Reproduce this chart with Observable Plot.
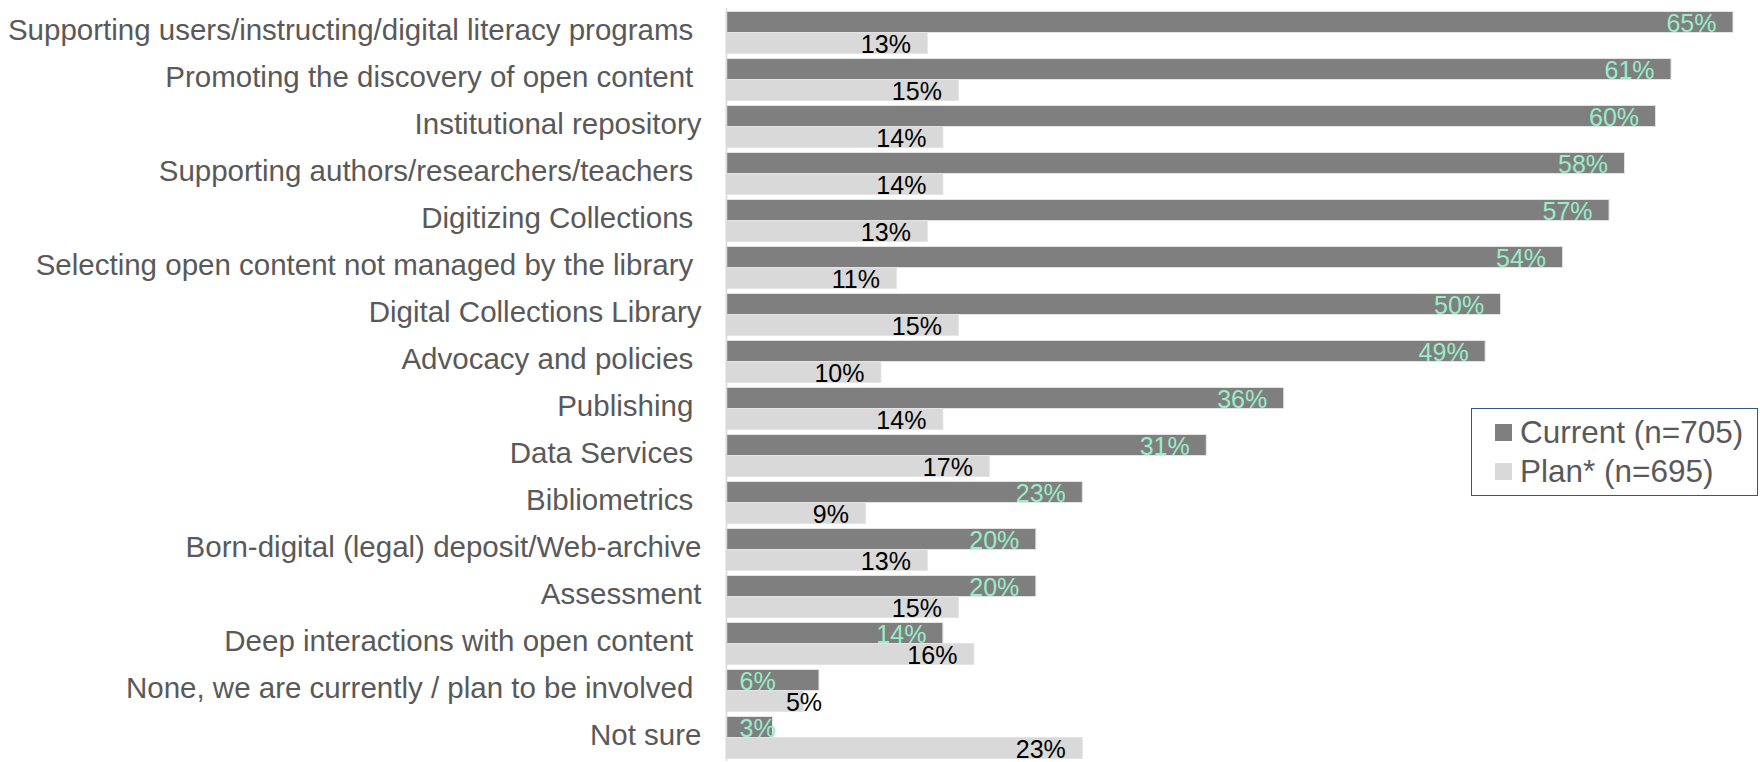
<!DOCTYPE html>
<html>
<head>
<meta charset="utf-8">
<script src="https://cdn.jsdelivr.net/npm/d3@7"></script>
<script src="https://cdn.jsdelivr.net/npm/@observablehq/plot@0.6"></script>
<style>
  html, body { margin: 0; padding: 0; background: #fff; }
  #wrap { position: relative; width: 1760px; height: 762px; font-family: "Liberation Sans", Arial, sans-serif; }
  #legend { position: absolute; left: 1471px; top: 408px; width: 285px; height: 86px; border: 1.5px solid #2f5597; box-sizing: content-box; }
  .item { position: absolute; left: 23px; display: flex; align-items: center; font-size: 31.5px; color: #595959; white-space: nowrap; }
  .sw { width: 17px; height: 17px; margin-right: 8px; }
</style>
</head>
<body>
<div id="wrap">
  <div id="chart"></div>
  <div id="legend"></div>
</div>
<script>
const categories = [
  "Supporting users/instructing/digital literacy programs\u00a0",
  "Promoting the discovery of open content\u00a0",
  "Institutional repository",
  "Supporting authors/researchers/teachers\u00a0",
  "Digitizing Collections\u00a0",
  "Selecting open content not managed by the library\u00a0",
  "Digital Collections Library",
  "Advocacy and policies\u00a0",
  "Publishing\u00a0",
  "Data Services\u00a0",
  "Bibliometrics\u00a0",
  "Born-digital (legal) deposit/Web-archive",
  "Assessment",
  "Deep interactions with open content\u00a0",
  "None, we are currently / plan to be involved\u00a0",
  "Not sure"
];
const currentValues = [65, 61, 60, 58, 57, 54, 50, 49, 36, 31, 23, 20, 20, 14, 6, 3];
const planValues    = [13, 15, 14, 14, 13, 11, 15, 10, 14, 17, 9, 13, 15, 16, 5, 23];
const seriesKeys = ["Current", "Plan"];
const seriesLabels = ["Current (n=705)", "Plan* (n=695)"];
const seriesColors = ["#7f7f7f", "#d9d9d9"];
const labelColors = ["#98ecc8", "#000000"];

const rows = categories.flatMap((c, i) => [
  {category: c, series: "Current", value: currentValues[i]},
  {category: c, series: "Plan", value: planValues[i]}
]);

const smallLimit = 8;

const chart = Plot.plot({
  width: 1760,
  height: 762,
  marginLeft: 726,
  marginRight: 27,
  marginTop: 6.5,
  marginBottom: 0,
  style: {fontFamily: "'Liberation Sans', Arial, sans-serif", fontSize: "29.5px", color: "#595959", background: "transparent"},
  facet: {data: rows, y: "category"},
  fy: {domain: categories, paddingInner: 0.11, paddingOuter: 0.055, axis: "left", tickSize: 0, tickPadding: 25, label: null},
  y: {domain: seriesKeys, padding: 0, axis: null},
  x: {domain: [0, 65], axis: null},
  color: {domain: seriesKeys, range: seriesColors},
  marks: [
    Plot.barX(rows, {x: "value", y: "series", fill: "series", stroke: "#e4e4e4", strokeWidth: 1}),
    Plot.ruleX([0], {stroke: "#d9d9d9", strokeWidth: 1.5, insetTop: -3, insetBottom: -3}),
    Plot.text(rows, {filter: d => d.series === "Current" && d.value >= smallLimit, x: "value", y: "series",
      text: d => d.value + "%", textAnchor: "end", dx: -17, dy: 1.5, fill: labelColors[0], fontSize: 25}),
    Plot.text(rows, {filter: d => d.series === "Plan" && d.value >= smallLimit, x: "value", y: "series",
      text: d => d.value + "%", textAnchor: "end", dx: -17, dy: 1.5, fill: labelColors[1], fontSize: 25}),
    Plot.text(rows, {filter: d => d.series === "Current" && d.value < smallLimit, y: "series", frameAnchor: "left",
      text: d => d.value + "%", textAnchor: "start", dx: 13, dy: 1.5, fill: labelColors[0], fontSize: 25}),
    Plot.text(rows, {filter: d => d.series === "Plan" && d.value < smallLimit, x: "value", y: "series",
      text: d => d.value + "%", textAnchor: "middle", dy: 1.5, fill: labelColors[1], fontSize: 25})
  ]
});
// nudge the category labels up slightly
d3.select(chart).selectAll('[aria-label^="fy-axis"] text').each(function () {
  const t = this.getAttribute("transform");
  this.setAttribute("transform", (t ? t + " " : "") + "translate(0,-2)");
});
document.getElementById("chart").appendChild(chart);

const legend = document.getElementById("legend");
seriesLabels.forEach((lab, i) => {
  const it = document.createElement("div");
  it.className = "item";
  it.style.top = (i === 0 ? 5 : 44) + "px";
  const sw = document.createElement("div");
  sw.className = "sw";
  sw.style.background = seriesColors[i];
  const tx = document.createElement("span");
  tx.textContent = lab;
  it.appendChild(sw);
  it.appendChild(tx);
  legend.appendChild(it);
});
</script>
</body>
</html>
